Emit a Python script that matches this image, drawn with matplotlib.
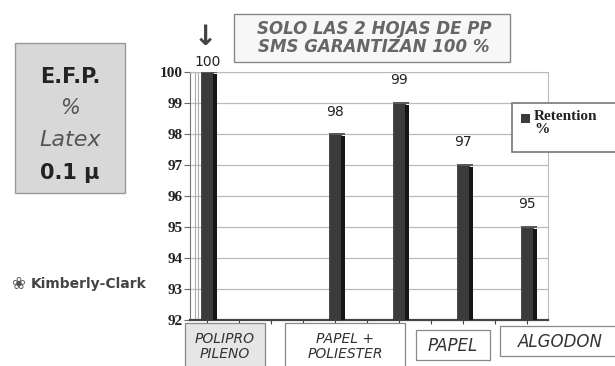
import matplotlib.pyplot as plt
from matplotlib.patches import Rectangle

# Retention data (E.F.P. with 0.1 micron latex)
slots = [0, 2, 3, 4, 5]
retention = [100, 98, 99, 97, 95]
value_labels = ["100", "98", "99", "97", "95"]
yticks = [92, 93, 94, 95, 96, 97, 98, 99, 100]
legend_label = "Retention\n%"
title_text = "SOLO LAS 2 HOJAS DE PP\nSMS GARANTIZAN 100 %"
cat_labels = ["POLIPRO\nPILENO", "PAPEL +\nPOLIESTER", "PAPEL", "ALGODON"]

W, H = 615, 366
fig = plt.figure(figsize=(W / 100, H / 100), dpi=100)
fig.patch.set_facecolor("white")


def fx(px):
    return px / W


def fy(py):
    return 1 - py / H


# main axes
left, right, top, bottom = 190, 548, 72, 320
ax = fig.add_axes([fx(left), fy(bottom), fx(right - left), (bottom - top) / H])
ax.set_xlim(-0.27, 5.33)
ax.set_ylim(92, 100)
ax.set_facecolor("white")
for s in ["top", "right"]:
    ax.spines[s].set_color("#bbbbbb")
    ax.spines[s].set_linewidth(0.8)
ax.spines["left"].set_color("#777777")
ax.spines["bottom"].set_color("#444444")
ax.spines["bottom"].set_linewidth(1.6)

# back wall lines and gridlines
for y in yticks:
    ax.axhline(y, color="#bbbbbb", lw=0.9, zorder=0)
ax.axvline(-0.19, color="#aaaaaa", lw=0.8, zorder=0)
ax.axvline(-0.15, color="#aaaaaa", lw=0.8, zorder=0)

ax.set_yticks(yticks)
ax.set_yticklabels([str(t) for t in yticks], fontfamily="Liberation Serif",
                   fontweight="bold", fontsize=11, color="#222222")
ax.tick_params(axis="y", length=4, width=0.8, color="#666666", pad=1)
ax.set_xticks([i * 0.5 for i in range(11)])
ax.set_xticklabels([])
ax.tick_params(axis="x", length=3, width=0.8, color="#444444", direction="out")

# 3D-style bars: front face, right side, top cap
bw = 0.19
dw = 0.065
ax.bar(slots, [r - 92 for r in retention], bottom=92, width=bw, color="#3b3b3b",
       edgecolor="#2a2a2a", lw=0.5, zorder=3, align="center")
ax.bar([s + bw / 2 + dw / 2 for s in slots], [r - 92 - 0.05 for r in retention],
       bottom=92, width=dw, color="#151515", edgecolor="none", zorder=3)
ax.bar([s + dw / 2 for s in slots], [0.06] * len(slots),
       bottom=[r - 0.02 for r in retention], width=bw + dw,
       color="#5a5a5a", edgecolor="none", zorder=4)

for s, r, lab in zip(slots, retention, value_labels):
    ax.text(s, min(r + 0.5, 100.1), lab, ha="center", va="bottom", fontsize=10,
            color="#222222", fontfamily="DejaVu Sans", zorder=5, clip_on=False)

# legend box
fig.patches.append(Rectangle((fx(512), fy(152)), fx(120), (152 - 103) / H,
                             transform=fig.transFigure, facecolor="white",
                             edgecolor="#777777", lw=1.2, zorder=6))
fig.patches.append(Rectangle((fx(521), fy(123)), fx(9), 9 / H, transform=fig.transFigure,
                             facecolor="#3b3b3b", edgecolor="none", zorder=7))
fig.text(fx(534), fy(117), legend_label, fontfamily="Liberation Serif", fontweight="bold",
         fontsize=11, color="#222222", va="top", ha="left", linespacing=1.0, zorder=8,
         position=(fx(534), fy(110)))

# title box
fig.patches.append(Rectangle((fx(234), fy(62)), fx(276), 48 / H, transform=fig.transFigure,
                             facecolor="#f7f7f7", edgecolor="#888888", lw=1.0))
fig.text(fx(374), fy(38), title_text, ha="center", va="center", fontsize=12,
         fontweight="bold", fontstyle="italic", color="#666666",
         fontfamily="DejaVu Sans", linespacing=1.05)

# arrow over first bar
fig.text(fx(205), fy(37), "\u2193", ha="center", va="center", fontsize=20,
         color="#444444", fontweight="bold")

# left info box
fig.patches.append(Rectangle((fx(15), fy(193)), fx(110), 150 / H, transform=fig.transFigure,
                             facecolor="#d8d8d8", edgecolor="#999999", lw=1.0))
fig.text(fx(70), fy(77), "E.F.P.", ha="center", va="center", fontsize=15,
         fontweight="bold", color="#222222")
fig.text(fx(70), fy(108), "%", ha="center", va="center", fontsize=15,
         fontstyle="italic", color="#555555")
fig.text(fx(70), fy(140), "Latex", ha="center", va="center", fontsize=16,
         fontstyle="italic", color="#555555")
fig.text(fx(70), fy(173), "0.1 \u03bc", ha="center", va="center", fontsize=15,
         fontweight="bold", color="#222222")

# company mark
fig.text(fx(18), fy(284), "\u2740", ha="center", va="center", fontsize=12, color="#555555",
         fontfamily="DejaVu Sans")
fig.text(fx(31), fy(284), "Kimberly-Clark", ha="left", va="center", fontsize=10,
         fontweight="bold", color="#444444", fontfamily="DejaVu Sans Condensed")

# category label boxes under the axis
cat_boxes = [(185, 323, 80, 45, "#e6e6e6"), (285, 323, 120, 45, "white"),
             (416, 330, 74, 30, "white"), (500, 326, 120, 30, "white")]
cat_sizes = [10, 10, 12, 12]
for (x0, y0, w, h, fc), lab, fs in zip(cat_boxes, cat_labels, cat_sizes):
    fig.patches.append(Rectangle((fx(x0), fy(y0 + h)), fx(w), h / H, transform=fig.transFigure,
                                 facecolor=fc, edgecolor="#888888", lw=0.9, zorder=5))
    fig.text(fx(x0 + w / 2), fy(y0 + h / 2 + 1), lab, ha="center", va="center", fontsize=fs,
             fontstyle="italic", color="#333333", linespacing=1.15, zorder=6)

fig.savefig("out.png", dpi=100)
